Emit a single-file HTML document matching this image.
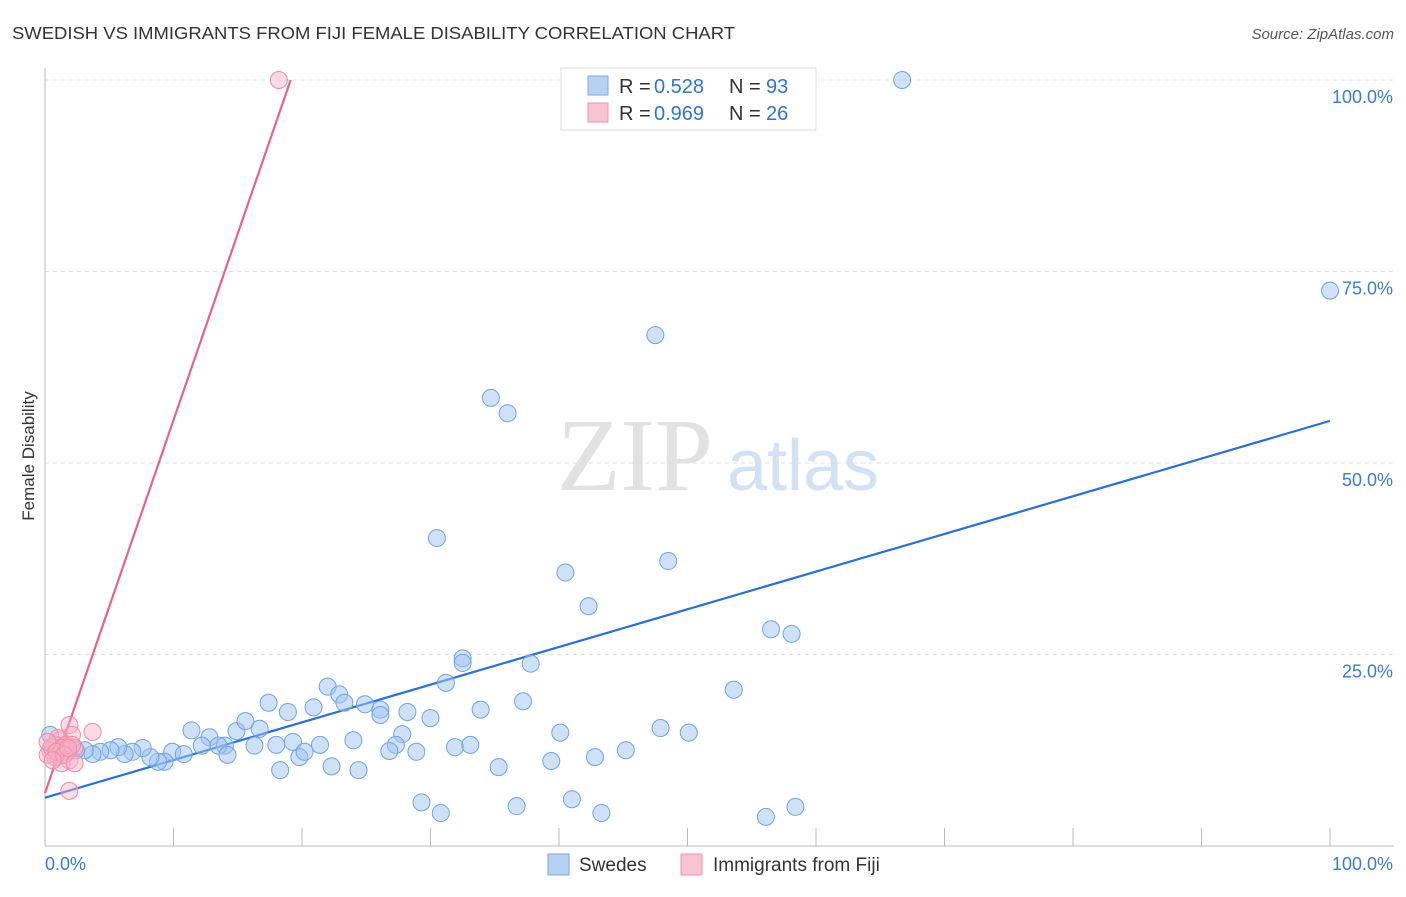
<!DOCTYPE html>
<html><head><meta charset="utf-8"><style>
body{margin:0;background:#fff;font-family:"Liberation Sans",sans-serif;}
</style></head><body>
<svg width="1406" height="892" xmlns="http://www.w3.org/2000/svg">
<text x="12" y="39" font-size="17.5" fill="#333" textLength="723" lengthAdjust="spacingAndGlyphs">SWEDISH VS IMMIGRANTS FROM FIJI FEMALE DISABILITY CORRELATION CHART</text>
<text x="1394" y="39" font-size="15" fill="#555" font-style="italic" text-anchor="end">Source: ZipAtlas.com</text>
<text x="0" y="0" transform="translate(34,456) rotate(-90)" font-size="17" fill="#333" text-anchor="middle">Female Disability</text>
<g><text x="635" y="490" font-family="Liberation Serif,serif" font-size="104" fill="#e2e2e2" text-anchor="middle">ZIP</text><text x="803" y="490" font-size="72" fill="#d2e1f4" text-anchor="middle">atlas</text></g>
<g id="grid"></g><g id="axes"></g><g id="lines"></g><g id="pts"></g>
<g>
<rect x="561" y="68" width="255" height="62" fill="#fff" stroke="#ddd"/>
<rect x="588" y="76" width="20" height="19" fill="#b6d1f3" stroke="#7aaae6"/>
<rect x="588" y="103" width="20" height="19" fill="#f9c3d3" stroke="#f093b0"/>
<text x="619" y="93" font-size="20" fill="#333">R = </text><text x="654" y="93" font-size="20" fill="#2f73d6">0.528</text>
<text x="729" y="93" font-size="20" fill="#333">N = </text><text x="766" y="93" font-size="20" fill="#2f73d6">93</text>
<text x="619" y="120" font-size="20" fill="#333">R = </text><text x="654" y="120" font-size="20" fill="#2f73d6">0.969</text>
<text x="729" y="120" font-size="20" fill="#333">N = </text><text x="766" y="120" font-size="20" fill="#2f73d6">26</text>
</g>
<g>
<rect x="548" y="854" width="21" height="21" fill="#b6d1f3" stroke="#7aaae6"/>
<text x="579" y="871" font-size="19" fill="#333">Swedes</text>
<rect x="681" y="854" width="21" height="21" fill="#f9c3d3" stroke="#f093b0"/>
<text x="713" y="871" font-size="19" fill="#333">Immigrants from Fiji</text>
</g>
</svg>
<script>
const yTicks=[25,50,75,100];
const yTickLabels=["25.0%","50.0%","75.0%","100.0%"];
const xTicks=[0,10,20,30,40,50,60,70,80,90,100];
const swedesX=[66.7,100,47.5,34.7,36.0,30.5,40.5,48.5,42.3,56.5,58.1,32.5,32.5,37.8,31.2,22.0,22.9,53.6,17.4,37.2,18.9,20.9,23.3,24.9,26.1,26.1,28.2,33.9,30.0,27.8,40.1,47.9,50.1,11.4,12.8,14.9,15.6,16.7,24.0,27.3,21.4,19.3,18.0,14.0,13.5,12.2,9.9,10.8,9.3,8.8,8.2,7.6,6.8,6.2,5.7,5.1,4.3,3.7,3.1,2.4,1.8,1.2,14.2,16.3,19.8,20.2,26.8,28.9,31.9,33.1,42.8,45.2,39.4,35.3,22.3,24.4,18.3,29.3,30.8,36.7,41.0,43.3,56.1,58.4,54.1,0.4];
const swedesY=[100,72.5,66.7,58.5,56.5,40.2,35.7,37.2,31.3,28.3,27.7,24.5,23.9,23.8,21.3,20.8,19.8,20.4,18.7,18.9,17.5,18.1,18.7,18.5,17.8,17.1,17.5,17.8,16.7,14.6,14.8,15.4,14.8,15.1,14.2,15.0,16.3,15.3,13.8,13.2,13.2,13.6,13.2,13.1,13.1,13.1,12.3,12.0,11.0,11.0,11.6,12.8,12.3,12.0,12.9,12.5,12.3,12.0,12.5,12.5,12.4,12.8,11.9,13.1,11.6,12.3,12.4,12.3,12.9,13.2,11.6,12.5,11.1,10.3,10.4,9.9,9.9,5.7,4.3,5.2,6.1,4.3,3.8,5.1,95.4,14.5];
const fijiX=[18.2,1.9,3.7,2.1,1.2,0.8,0.4,1.6,1.9,1.3,0.8,2.3,0.2,1.0,1.6,1.9,0.5,1.3,2.1,0.2,0.9,1.5,1.8,0.6,2.3];
const fijiY=[100,15.8,14.9,14.5,13.8,13.2,12.5,12.3,11.2,10.8,11.6,12.8,11.9,14.1,13.2,7.2,12.9,12.8,13.2,13.6,12.3,11.9,12.8,11.2,10.8];
const swedesTrend=[6.3,55.5];
const fijiTrend=[6.9,4.87];
const X=v=>45+v*12.85, Y=v=>846-v*7.66;
const NS="http://www.w3.org/2000/svg";
function mk(p,t,a){const e=document.createElementNS(NS,t);for(const k in a)e.setAttribute(k,a[k]);document.getElementById(p).appendChild(e);return e;}
yTicks.forEach((t,i)=>{
 const l=mk('grid','line',{x1:45,x2:1394,y1:Y(t),y2:Y(t),stroke:'#ddd','stroke-dasharray':'4,4'});
 
 
 const tx=mk('grid','text',{x:1393,y:Y(t)+23,'font-size':18,fill:'#3a7bd5','text-anchor':'end'});
 tx.textContent=yTickLabels[i];
 
 
});
mk('axes','line',{x1:45,x2:45,y1:68,y2:846,stroke:'#bbb'});
mk('axes','line',{x1:45,x2:1394,y1:846,y2:846,stroke:'#bbb'});
xTicks.forEach(t=>{const l=mk('axes','line',{x1:X(t),x2:X(t),y1:828,y2:846,stroke:'#bbb'});
 
 });
let a=mk('axes','text',{x:45,y:870,'font-size':18,fill:'#3a7bd5'});a.textContent='0.0%';


a=mk('axes','text',{x:1393,y:870,'font-size':18,fill:'#3a7bd5','text-anchor':'end'});a.textContent='100.0%';


function dots(xs,ys,fill,stroke,name){xs.forEach((x,i)=>{const c=mk('pts','circle',{cx:X(x),cy:Y(ys[i]),r:8.5,fill:fill,stroke:stroke,'stroke-width':1});
 
 });}
dots(swedesX,swedesY,'rgba(160,196,240,0.5)','#6fa3e3','swedes-point');
dots(fijiX,fijiY,'rgba(248,175,198,0.45)','#f08aa8','fiji-point');
let t=mk('lines','line',{x1:X(0),y1:Y(swedesTrend[0]),x2:X(100),y2:Y(swedesTrend[1]),stroke:'#2a70d8','stroke-width':2.2});


const fx=(100-fijiTrend[0])/fijiTrend[1];
t=mk('lines','line',{x1:X(0),y1:Y(fijiTrend[0]),x2:X(fx),y2:Y(100),stroke:'#e8628e','stroke-width':2.2});


</script>
</body></html>
